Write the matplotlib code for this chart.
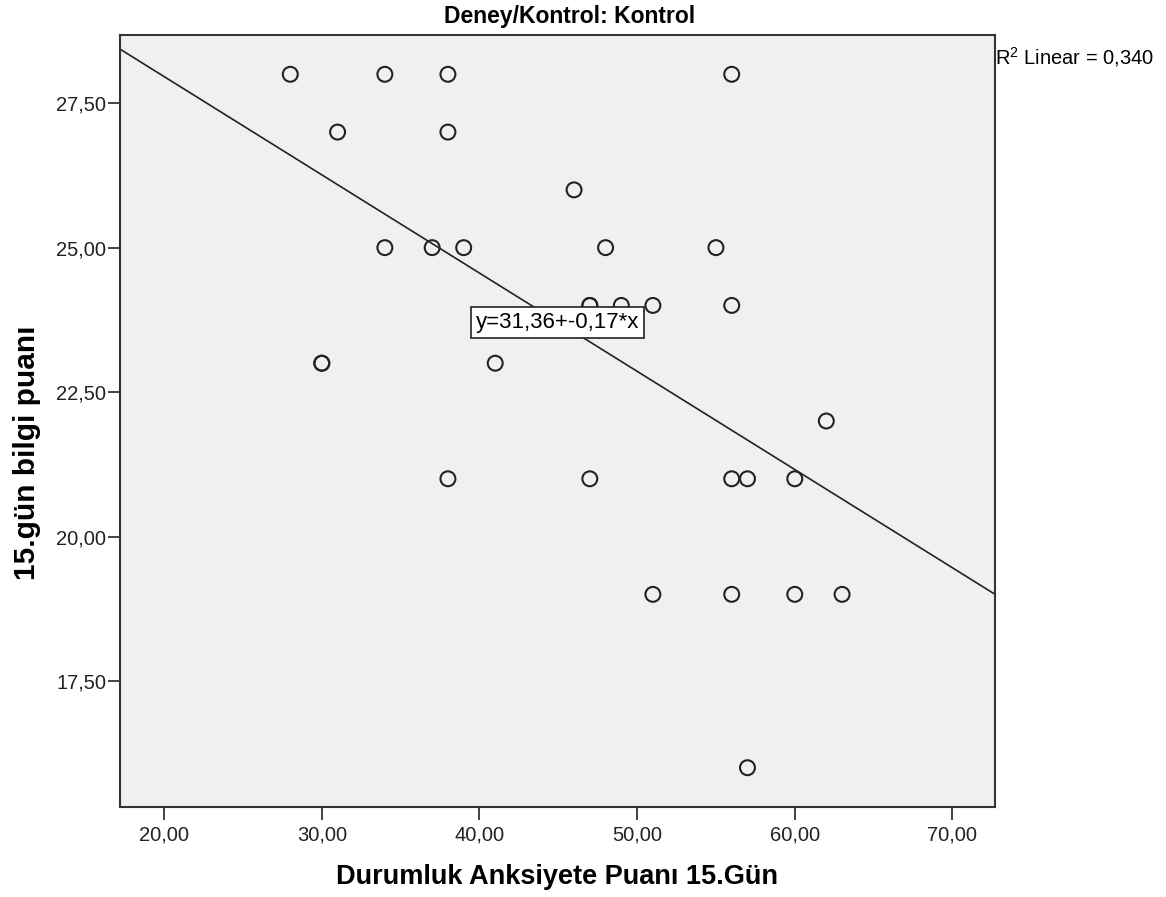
import matplotlib
matplotlib.use("Agg")
import matplotlib.pyplot as plt
import numpy as np

plt.rcParams['font.family'] = ['Liberation Sans', 'DejaVu Sans']

# anxiety score (x) and knowledge score (y), control group
anksiyete = [28, 34, 38, 56,
             31, 38,
             46,
             34, 37, 39, 48, 55,
             47, 47, 49, 51, 56,
             30, 30, 41,
             62,
             38, 47, 56, 57, 60,
             51, 56, 60, 63,
             57]
bilgi = [28, 28, 28, 28,
         27, 27,
         26,
         25, 25, 25, 25, 25,
         24, 24, 24, 24, 24,
         23, 23, 23,
         22,
         21, 21, 21, 21, 21,
         19, 19, 19, 19,
         16]

intercept = 31.36
slope = -0.17
r2 = 0.340

xticks = [20, 30, 40, 50, 60, 70]
yticks = [17.5, 20.0, 22.5, 25.0, 27.5]
xlim = (17.2, 72.7)
ylim = (15.32, 28.68)

def fmt(v):
    return f"{v:.2f}".replace('.', ',')

fig = plt.figure(figsize=(11.66, 8.97), dpi=100)
ax = fig.add_axes([120 / 1166, 90 / 897, 875 / 1166, 772 / 897])
ax.set_facecolor('#f0f0f0')

ax.scatter(anksiyete, bilgi, s=115, facecolors='none', edgecolors='#222222',
           linewidths=1.5, zorder=3)

lx = np.array(xlim)
ax.plot(lx, intercept + slope * lx, color='#222222', lw=1.2, zorder=2)

ax.set_xlim(*xlim)
ax.set_ylim(*ylim)
ax.set_xticks(xticks)
ax.set_xticklabels([fmt(t) for t in xticks])
ax.set_yticks(yticks)
ax.set_yticklabels([fmt(t) for t in yticks])
ax.tick_params(direction='out', length=9, width=1.2, labelsize=14.5, colors='#222222')
ax.tick_params(axis='x', pad=4)
ax.tick_params(axis='y', pad=1)
for s in ax.spines.values():
    s.set_linewidth(1.5)
    s.set_color('#333333')

fig.text(557 / 1166, 1 - 877 / 897, 'Durumluk Anksiyete Puanı 15.Gün', fontsize=19.5,
         fontweight='bold', ha='center', va='center')
fig.text(27 / 1166, 1 - 453 / 897, '15.gün bilgi puanı', fontsize=21.5, fontweight='bold',
         rotation=90, ha='center', va='center')
fig.text(570 / 1166, 1 - 16 / 897, 'Deney/Kontrol: Kontrol', fontsize=16.5, fontweight='bold',
         ha='center', va='center')

ax.text(1.0, 0.987, '$\\mathregular{R^2}$ Linear = ' + f"{r2:.3f}".replace('.', ','),
        transform=ax.transAxes, ha='left', va='top', fontsize=14.5)

ax.text(44.93, 23.71, f"y={intercept:.2f}+{slope:.2f}*x".replace('.', ','),
        fontsize=16, ha='center', va='center', zorder=5,
        bbox=dict(boxstyle='square,pad=0.22', facecolor='white', edgecolor='#222222', lw=1.2))

fig.savefig('out.png', dpi=100, facecolor='white')
